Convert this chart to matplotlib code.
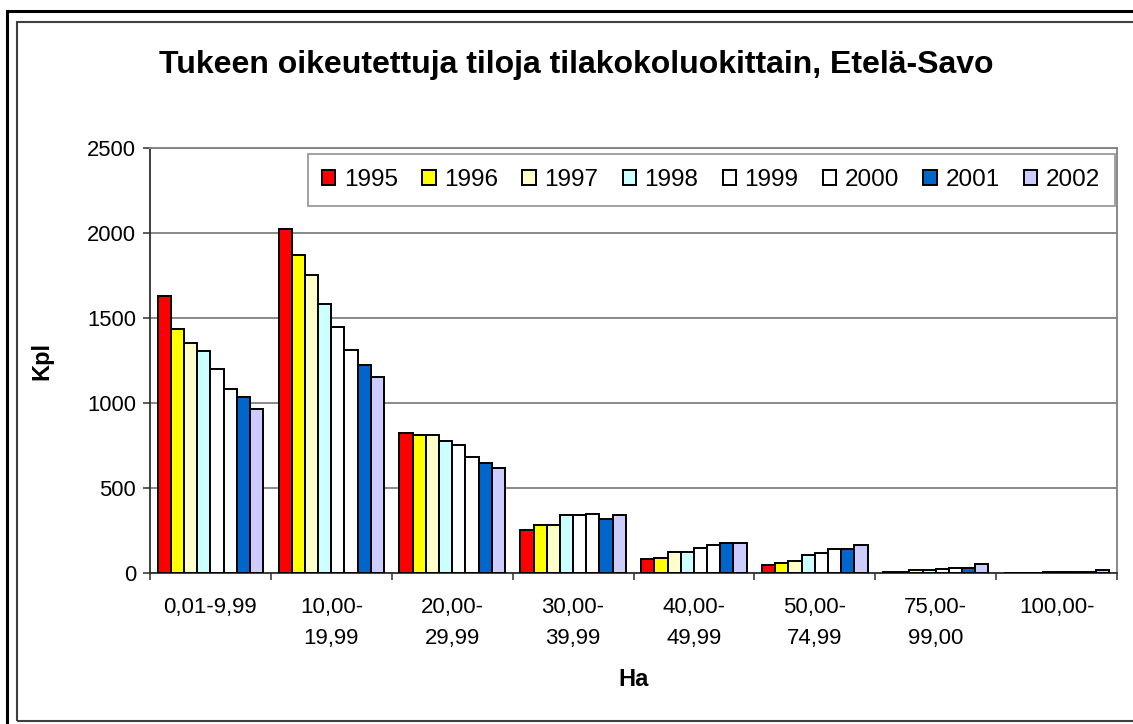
import numpy as np
import matplotlib
matplotlib.use('Agg')
import matplotlib.pyplot as plt
from matplotlib.patches import Rectangle

plt.rcParams['font.family'] = ['Liberation Sans', 'DejaVu Sans']

# data
classes = ['0,01-9,99', '10,00-\n19,99', '20,00-\n29,99', '30,00-\n39,99',
           '40,00-\n49,99', '50,00-\n74,99', '75,00-\n99,00', '100,00-']
years = ['1995', '1996', '1997', '1998', '1999', '2000', '2001', '2002']
y1995 = [1630, 2025, 825, 255, 80, 45, 5, 0]
y1996 = [1435, 1870, 810, 280, 90, 60, 8, 0]
y1997 = [1355, 1755, 810, 280, 125, 70, 20, 0]
y1998 = [1305, 1580, 775, 340, 125, 105, 20, 4]
y1999 = [1200, 1450, 755, 340, 150, 120, 22, 5]
y2000 = [1085, 1310, 680, 350, 165, 140, 30, 6]
y2001 = [1035, 1225, 645, 315, 175, 140, 32, 7]
y2002 = [965, 1155, 620, 340, 175, 165, 55, 20]
series = [y1995, y1996, y1997, y1998, y1999, y2000, y2001, y2002]
colors = ['#FF0000', '#FFFF00', '#FFFFCC', '#CCFFFF', '#FFFFFF', '#FFFFFF',
          '#0066CC', '#CCCCFF']

fig = plt.figure(figsize=(11.33, 7.24), dpi=100)
ax = fig.add_axes([150 / 1133, 1 - 573 / 724, 967 / 1133, 425 / 724])

# outer frames
fig.patches.append(Rectangle((7 / 1133, -0.1), 1.2, (724 - 11) / 724 + 0.1,
                             transform=fig.transFigure, fill=False,
                             edgecolor='black', linewidth=2.2))
fig.patches.append(Rectangle((17 / 1133, 1 - 721 / 724), 1.2, (721 - 22) / 724,
                             transform=fig.transFigure, fill=False,
                             edgecolor='#404040', linewidth=1.5))

x = np.arange(len(classes))
w = 0.109
for i, (vals, c) in enumerate(zip(series, colors)):
    ax.bar(x + (i - 3.5) * w, vals, width=w, color=c, edgecolor='black',
           linewidth=1.4, label=years[i], zorder=3)

ax.set_xlim(-0.5, len(classes) - 0.5)
ax.set_ylim(0, 2500)
ax.set_yticks(range(0, 2501, 500))
ax.yaxis.grid(True, color='#808080', linewidth=1.3, zorder=0)
ax.set_xticks(x)
ax.set_xticklabels(classes, fontsize=16, linespacing=1.65)
ax.set_xticks(np.arange(-0.5, len(classes), 1), minor=True)
ax.tick_params(axis='x', which='major', length=0, pad=17)
ax.tick_params(axis='x', which='minor', length=5, width=1.2, color='#404040')
ax.tick_params(axis='y', length=5, width=1.2, color='#404040', labelsize=15.8, pad=5)

for side in ['top', 'right']:
    ax.spines[side].set_color('#808080')
    ax.spines[side].set_linewidth(1.3)
for side in ['left', 'bottom']:
    ax.spines[side].set_color('#303030')
    ax.spines[side].set_linewidth(1.3)

ax.set_xlabel('Ha', fontsize=17, fontweight='bold', labelpad=14)
ax.set_ylabel('Kpl', fontsize=17, fontweight='bold', labelpad=24)

leg = ax.legend(ncol=8, loc='upper right', bbox_to_anchor=(0.9975, 0.985),
                fontsize=17.5, frameon=True, fancybox=False,
                handlelength=0.55, handleheight=0.55, handletextpad=0.35,
                columnspacing=1.0, borderpad=0.6, borderaxespad=0)
leg.get_frame().set_edgecolor('#808080')
leg.get_frame().set_linewidth(1.3)

fig.text(576 / 1133, 1 - 65 / 724, 'Tukeen oikeutettuja tiloja tilakokoluokittain, Etelä-Savo',
         ha='center', va='center', fontsize=23, fontweight='bold')

fig.savefig('out.png', dpi=100)
